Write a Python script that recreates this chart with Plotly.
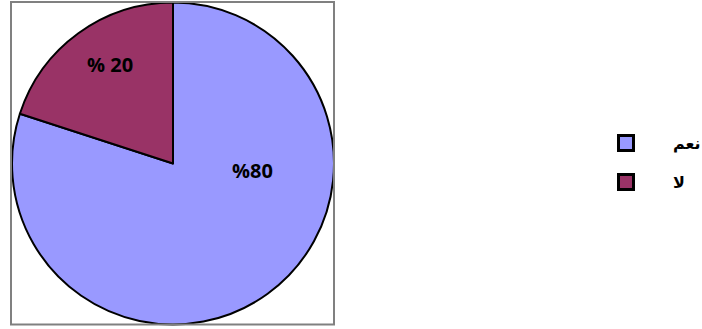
import plotly.graph_objects as go

# Survey answers and their shares (percent)
labels = ["نعم", "لا"]
values = [80, 20]
colors = ["#9999FF", "#993366"]

W, H = 702, 329


def px(x):
    return x / W


def py(y):
    return 1 - y / H


fig = go.Figure(
    go.Pie(
        labels=labels,
        values=values,
        sort=False,
        direction="clockwise",
        rotation=0,
        marker=dict(colors=colors, line=dict(color="#000000", width=2)),
        textinfo="none",
        hoverinfo="label+percent",
        showlegend=False,
        domain=dict(x=[px(12), px(334)], y=[py(325), py(2)]),
    )
)

annotations = []
shapes = []

# Outer gray frame around the pie
shapes.append(dict(type="rect", xref="paper", yref="paper",
                   x0=px(11), x1=px(334), y0=py(324.5), y1=py(2),
                   line=dict(color="#808080", width=2), fillcolor="rgba(0,0,0,0)"))

# Percentage labels on the slices
label_pos = [(252, 170), (110, 64)]
label_fmt = ["%{}", "% {}"]
for v, fmt, (lx, ly) in zip(values, label_fmt, label_pos):
    annotations.append(dict(x=px(lx), y=py(ly), xref="paper", yref="paper",
                            text=fmt.format(v), showarrow=False,
                            font=dict(family="Open Sans, Liberation Sans, sans-serif",
                                      size=20, color="#000000", weight=700),
                            xanchor="center", yanchor="middle"))

# Legend: colored squares with the answer text to their right
for i, (lab, col) in enumerate(zip(labels, colors)):
    cy = 143 + i * 39
    shapes.append(dict(type="rect", xref="paper", yref="paper",
                       x0=px(618.5), x1=px(633.5), y0=py(cy + 7.5), y1=py(cy - 7.5),
                       line=dict(color="#000000", width=3), fillcolor=col))
    annotations.append(dict(x=px(671), y=py(cy), xref="paper", yref="paper",
                            text=lab, showarrow=False,
                            font=dict(family="DejaVu Sans, sans-serif",
                                      size=16, color="#000000", weight=700),
                            xanchor="left", yanchor="middle"))

fig.update_layout(
    width=W, height=H,
    margin=dict(l=0, r=0, t=0, b=0),
    paper_bgcolor="#FFFFFF",
    plot_bgcolor="#FFFFFF",
    shapes=shapes,
    annotations=annotations,
)

fig.write_html("out.html")
